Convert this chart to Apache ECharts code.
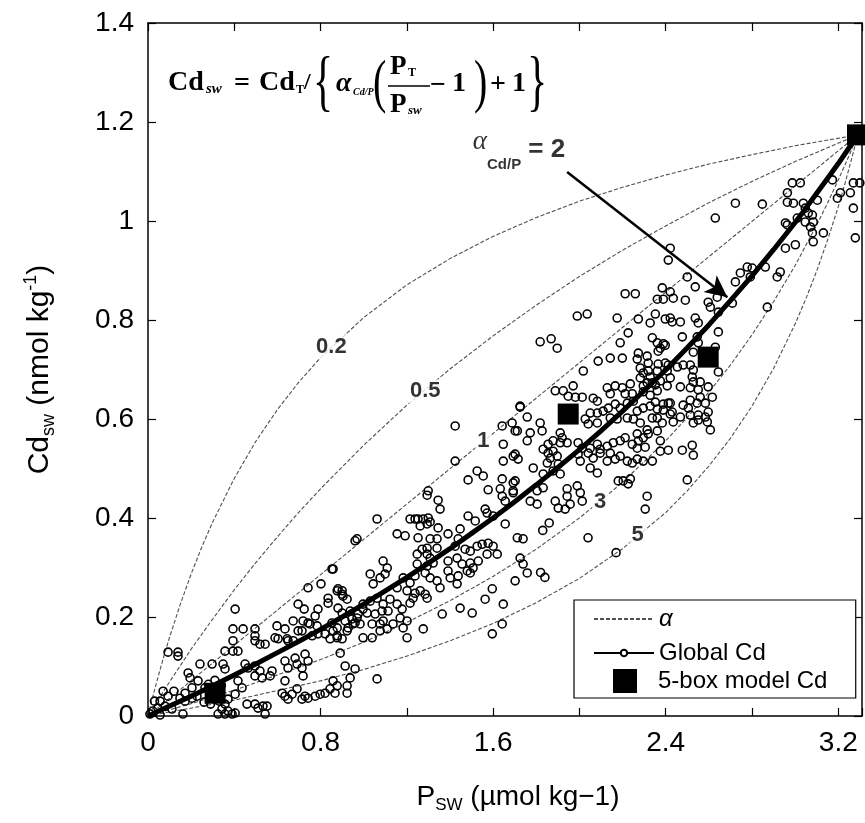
<!DOCTYPE html>
<html>
<head>
<meta charset="UTF-8">
<script type="text/javascript" src="https://cdn.jsdelivr.net/npm/echarts@6/dist/echarts.min.js"></script>
<title>Cd vs P</title>
<style>html,body{margin:0;padding:0;background:#fff;}</style>
</head>
<body>
<div id="main" style="width:865px;height:823px;"></div>
<script type="text/javascript">
// model curves Cd_sw vs P_sw for each alpha
var curveA02 = [[0,0],[0.01,0.018],[0.02,0.035],[0.035,0.060],[0.05,0.084],[0.075,0.123],[0.1,0.159],[0.15,0.226],[0.2,0.287],[0.25,0.342],[0.3,0.392],[0.4,0.480],[0.5,0.555],[0.6,0.619],[0.7,0.675],[0.8,0.724],[1.0,0.805],[1.2,0.871],[1.4,0.924],[1.6,0.969],[1.8,1.007],[2.0,1.040],[2.2,1.068],[2.4,1.093],[2.6,1.115],[2.8,1.134],[3.0,1.152],[3.29,1.174]];
var curveA05 = [[0,0],[0.05,0.035],[0.1,0.069],[0.2,0.135],[0.3,0.196],[0.4,0.255],[0.5,0.310],[0.6,0.362],[0.7,0.412],[0.8,0.459],[1.0,0.547],[1.2,0.628],[1.4,0.701],[1.6,0.768],[1.8,0.830],[2.0,0.888],[2.2,0.941],[2.4,0.990],[2.6,1.037],[2.8,1.080],[3.0,1.120],[3.29,1.174]];
var curveA1 = [[0,0],[3.29,1.174]];
var curveA3 = [[0,0],[0.2,0.025],[0.4,0.052],[0.8,0.114],[1.0,0.149],[1.2,0.189],[1.4,0.233],[1.6,0.282],[1.8,0.337],[2.0,0.400],[2.2,0.472],[2.4,0.556],[2.5,0.603],[2.6,0.654],[2.7,0.709],[2.8,0.770],[2.9,0.837],[3.0,0.910],[3.1,0.992],[3.15,1.036],[3.2,1.083],[3.25,1.132],[3.29,1.174]];
var curveA5 = [[0,0],[0.4,0.032],[0.8,0.071],[1.0,0.094],[1.2,0.121],[1.4,0.152],[1.6,0.187],[1.8,0.229],[2.0,0.278],[2.2,0.338],[2.4,0.411],[2.5,0.455],[2.6,0.505],[2.7,0.561],[2.8,0.626],[2.9,0.702],[3.0,0.792],[3.05,0.843],[3.1,0.899],[3.15,0.961],[3.2,1.029],[3.23,1.074],[3.27,1.139],[3.29,1.174]];
// thick global Cd line
var globalCdLine = [[0,0],[0.1,0.020],[0.2,0.040],[0.3,0.061],[0.4,0.083],[0.5,0.105],[0.6,0.128],[0.7,0.151],[0.8,0.175],[0.9,0.200],[1.0,0.226],[1.1,0.253],[1.2,0.280],[1.3,0.309],[1.4,0.338],[1.5,0.369],[1.6,0.400],[1.7,0.433],[1.8,0.467],[1.9,0.502],[2.0,0.538],[2.1,0.576],[2.2,0.616],[2.3,0.657],[2.4,0.699],[2.5,0.744],[2.6,0.790],[2.7,0.839],[2.8,0.889],[2.9,0.942],[3.0,0.997],[3.05,1.026],[3.1,1.056],[3.15,1.086],[3.2,1.116],[3.25,1.148],[3.29,1.174]];
// 5-box model values
var boxModel = [[0.311,0.046],[1.948,0.610],[2.597,0.725],[3.289,1.174]];

// observed Cd / P pairs (open circles)
var obsLowLeft = [
[0.093,0.129],[0.139,0.129],[0.139,0.121],[0.404,0.216],[0.853,0.297],[0.802,0.267],[0.742,0.259],[0.960,0.354],
[0.881,0.257],[0.900,0.246],[0.923,0.236],[0.835,0.238],[0.835,0.228],[0.696,0.226],[0.724,0.216],[0.788,0.216],
[0.881,0.218],[0.900,0.208],[0.997,0.216],[0.946,0.196],[0.974,0.206],[0.673,0.192],[0.719,0.192],[0.751,0.186],
[0.775,0.202],[0.784,0.182],[0.394,0.176],[0.441,0.176],[0.496,0.176],[0.598,0.182],[0.635,0.176],[0.696,0.172],
[0.853,0.188],[0.877,0.178],[0.914,0.192],[0.928,0.178],[0.960,0.188],[0.394,0.152],[0.357,0.131],[0.394,0.131],
[0.417,0.131],[0.496,0.162],[0.496,0.152],[0.519,0.145],[0.543,0.145],[0.589,0.158],[0.603,0.156],[0.645,0.156],
[0.649,0.152],[0.673,0.152],[0.714,0.172],[0.742,0.188],[0.761,0.162],[0.788,0.166],[0.821,0.166],[0.844,0.156],
[0.877,0.162],[0.241,0.105],[0.297,0.105],[0.348,0.105],[0.357,0.095],[0.186,0.087],[0.195,0.077],[0.232,0.071],
[0.450,0.105],[0.464,0.097],[0.496,0.101],[0.519,0.091],[0.496,0.081],[0.529,0.077],[0.566,0.081],[0.575,0.091],
[0.635,0.111],[0.649,0.097],[0.682,0.117],[0.691,0.105],[0.714,0.097],[0.728,0.125],[0.742,0.111],[0.719,0.081],
[0.635,0.071],[0.914,0.101],[0.960,0.095],[0.937,0.077],[0.923,0.061],[0.923,0.046],[0.691,0.055],[0.668,0.044],
[0.635,0.040],[0.622,0.046],[0.649,0.034],[0.714,0.034],[0.728,0.040],[0.742,0.036],[0.775,0.040],[0.798,0.044],
[0.821,0.046],[0.844,0.055],[0.867,0.046],[0.459,0.024],[0.496,0.024],[0.510,0.016],[0.533,0.020],[0.552,0.020],
[0.543,0.004],[0.343,0.014],[0.371,0.010],[0.404,0.006],[0.325,0.004],[0.357,0.004],[0.390,0.004],[0.093,0.040],
[0.056,0.030],[0.046,0.016],[0.079,0.020],[0.111,0.014],[0.162,0.004],[0.172,0.030],[0.204,0.036],[0.227,0.040],
[0.023,0.010],[0.056,0.002],[0.009,0.004],[0.404,0.044],[0.371,0.034],[0.357,0.024],[0.436,0.057],[0.417,0.071],
[0.264,0.057],[0.204,0.057],[0.172,0.046],[0.148,0.036],[0.280,0.064],[0.310,0.072],[0.340,0.062],[0.260,0.028],
[0.290,0.024],[0.330,0.030],[0.120,0.050],[0.070,0.050],[0.030,0.030]
];
var obsMid = [
[1.424,0.586],[1.424,0.515],[1.299,0.455],[1.294,0.446],[1.345,0.436],[1.354,0.418],[1.062,0.398],[0.969,0.358],[0.858,0.297],
[1.642,0.586],[1.688,0.592],[1.725,0.626],[1.712,0.576],[1.647,0.549],[1.647,0.515],[1.693,0.525],[1.716,0.519],
[1.526,0.495],[1.554,0.485],[1.484,0.477],[1.642,0.479],[1.693,0.471],[1.633,0.459],[1.642,0.444],[1.577,0.457],[1.693,0.455],
[1.563,0.418],[1.572,0.410],[1.600,0.404],[1.484,0.404],[1.517,0.394],[1.656,0.388],[1.712,0.360],[1.739,0.358],
[1.215,0.398],[1.238,0.398],[1.252,0.398],[1.276,0.398],[1.299,0.400],[1.308,0.392],[1.294,0.388],[1.262,0.384],[1.345,0.380],
[1.155,0.368],[1.192,0.364],[1.252,0.360],[1.308,0.358],[1.340,0.358],[1.294,0.339],[1.271,0.337],[1.248,0.327],[1.294,0.327],[1.308,0.319],[1.340,0.339],
[1.391,0.368],[1.447,0.378],[1.438,0.358],[1.424,0.343],[1.470,0.337],[1.494,0.333],[1.526,0.343],[1.549,0.347],[1.577,0.349],[1.600,0.343],
[1.619,0.327],[1.572,0.327],[1.531,0.313],[1.494,0.309],[1.456,0.307],[1.433,0.319],[1.391,0.313],
[1.090,0.313],[1.109,0.299],[1.099,0.287],[1.248,0.307],[1.294,0.303],[1.322,0.309],[1.285,0.289],[1.308,0.279],[1.340,0.273],[1.354,0.259],
[1.391,0.293],[1.401,0.279],[1.438,0.283],[1.433,0.267],[1.480,0.293],[1.494,0.289],[1.507,0.299],
[1.030,0.287],[1.044,0.267],[1.076,0.279],[1.183,0.279],[1.215,0.269],[1.238,0.283],
[1.155,0.259],[1.201,0.253],[1.238,0.248],[1.262,0.253],[1.285,0.246],[1.294,0.238],[1.229,0.238],[1.215,0.228],
[0.877,0.253],[0.900,0.253],[0.904,0.242],
[0.997,0.226],[1.030,0.232],[1.062,0.238],[1.090,0.226],[1.122,0.236],[1.155,0.226],[1.178,0.216],[1.113,0.212],[1.085,0.212],[1.053,0.206],[1.016,0.208],
[0.937,0.212],[0.969,0.198],[0.983,0.186],[0.951,0.186],[0.923,0.172],[0.858,0.172],[0.877,0.158],[0.900,0.156],
[1.039,0.186],[1.076,0.186],[1.090,0.192],[1.136,0.186],[1.169,0.198],[1.201,0.192],[1.183,0.178],[1.201,0.158],[1.276,0.176],
[0.997,0.158],[1.039,0.158],[1.076,0.172],[1.109,0.176],
[1.364,0.206],[1.447,0.218],[1.503,0.208],[1.563,0.236],[1.596,0.257],[1.647,0.226],[1.596,0.166],[1.642,0.186],
[1.702,0.273],[1.739,0.307],[1.758,0.289],[1.725,0.319],
[0.891,0.127],[1.062,0.075],[0.877,0.061],[0.858,0.071]
];
var obsCentre = [
[2.212,0.853],[2.259,0.853],[2.361,0.842],[2.389,0.842],[2.384,0.865],[1.990,0.808],[2.036,0.812],[2.175,0.804],
[1.818,0.756],[1.869,0.762],[1.897,0.743],[2.226,0.774],[2.273,0.802],[2.328,0.794],[2.352,0.812],[2.398,0.802],
[2.189,0.754],[2.338,0.764],[2.361,0.754],[2.389,0.752],[2.365,0.737],[2.087,0.717],[2.143,0.723],[2.199,0.723],
[2.273,0.733],[2.268,0.721],[2.314,0.727],[2.319,0.713],[2.282,0.703],[2.319,0.697],[2.361,0.697],[2.365,0.711],[2.398,0.713],[2.407,0.697],
[2.018,0.697],[1.971,0.667],[1.925,0.657],[1.888,0.657],[1.948,0.646],[1.981,0.644],
[2.013,0.644],[2.064,0.642],[2.083,0.636],[2.129,0.663],[2.166,0.667],[2.143,0.651],[2.199,0.663],[2.212,0.651],[2.236,0.671],[2.245,0.651],
[2.282,0.683],[2.296,0.667],[2.338,0.673],[2.375,0.677],[2.361,0.657],[2.407,0.667],[1.725,0.624],
[2.050,0.612],[2.083,0.612],[2.110,0.616],[2.134,0.622],[2.166,0.630],[2.189,0.622],[2.222,0.632],[2.250,0.636],[2.268,0.616],[2.296,0.622],
[2.328,0.626],[2.361,0.620],[2.389,0.630],[2.412,0.632],[1.758,0.604],[1.818,0.592],[1.827,0.576],
[2.027,0.600],[2.041,0.590],[2.083,0.592],[2.143,0.602],[2.175,0.600],[2.222,0.602],[2.250,0.600],[2.282,0.592],[2.338,0.602],[2.361,0.602],[2.384,0.592],[2.421,0.610],
[1.702,0.576],[1.772,0.572],[1.758,0.556],[1.911,0.572],[1.920,0.562],[1.878,0.556],[1.855,0.549],[1.911,0.552],[1.943,0.552],[1.994,0.552],
[2.013,0.541],[2.050,0.541],[2.041,0.531],[2.083,0.549],[2.096,0.539],[2.129,0.545],[2.157,0.552],[2.189,0.556],[2.212,0.562],[2.268,0.570],
[2.245,0.549],[2.273,0.556],[2.296,0.562],[2.319,0.570],[2.361,0.576],[2.375,0.556],[2.268,0.541],
[1.832,0.539],[1.855,0.531],[1.878,0.535],[1.865,0.521],[1.897,0.525],[1.851,0.511],[1.902,0.509],[1.878,0.495],[1.911,0.489],[1.832,0.489],
[1.702,0.529],[1.786,0.501],[1.994,0.529],[2.004,0.515],[2.064,0.521],[2.096,0.531],[2.143,0.531],[2.050,0.501],[2.083,0.491],[2.129,0.515],
[2.166,0.519],[2.189,0.525],[2.222,0.515],[2.245,0.511],[2.268,0.519],[2.296,0.515],[2.338,0.515],[2.375,0.535],
[1.702,0.475],[1.693,0.451],[1.656,0.434],[1.804,0.455],[1.772,0.434],[1.832,0.461],[1.943,0.459],[1.943,0.444],[1.990,0.465],[2.004,0.451],
[2.013,0.434],[1.957,0.428],[1.888,0.434],[2.180,0.475],[2.203,0.475],[2.236,0.479],[2.226,0.469],
[2.314,0.444],[2.305,0.418],[1.902,0.420],[1.934,0.418],[1.804,0.428],
[1.860,0.390],[1.830,0.375],[2.040,0.360],[1.840,0.280],[1.820,0.290],[2.170,0.330]
];
var obsRightBand = [
[2.421,0.945],[2.412,0.921],[2.500,0.887],[2.537,0.867],[2.491,0.840],[2.421,0.857],[2.435,0.844],
[2.778,0.907],[2.801,0.905],[2.746,0.895],[2.792,0.887],[2.723,0.877],[2.862,0.907],
[2.639,0.846],[2.597,0.836],[2.607,0.826],[2.644,0.816],[2.709,0.834],
[2.421,0.804],[2.430,0.796],[2.468,0.796],[2.537,0.804],[2.551,0.794],[2.644,0.776],[2.871,0.826],
[2.477,0.766],[2.546,0.766],[2.551,0.754],[2.528,0.735],[2.630,0.745],
[2.412,0.709],[2.454,0.705],[2.481,0.709],[2.514,0.709],[2.528,0.699],[2.644,0.695],
[2.421,0.683],[2.468,0.665],[2.523,0.685],[2.528,0.675],[2.560,0.675],[2.514,0.663],[2.551,0.659],[2.597,0.665],
[2.421,0.632],[2.430,0.614],[2.481,0.628],[2.514,0.638],[2.505,0.622],[2.546,0.632],[2.560,0.644],[2.584,0.632],[2.616,0.644],
[2.597,0.614],[2.584,0.604],[2.551,0.608],[2.435,0.594],[2.468,0.604],[2.514,0.608],[2.528,0.592],[2.551,0.598],[2.593,0.594],[2.607,0.578],
[2.412,0.537],[2.477,0.537],[2.523,0.547],[2.528,0.527],[2.500,0.477],
[2.296,0.655],[2.328,0.648],[2.352,0.634],[2.389,0.618],[2.314,0.578],[2.305,0.543],[2.314,0.673],[2.352,0.669],[2.296,0.693],[2.328,0.685],
[2.398,0.749],[2.375,0.743]
];
var obsTopRight = [
[2.987,1.077],[3.024,1.077],[2.964,1.057],[2.964,1.038],[2.992,1.036],[2.848,1.034],
[3.038,1.036],[3.047,1.026],[3.061,1.016],[3.080,1.012],[3.084,0.998],[3.047,0.998],[3.010,1.006],[2.955,0.996],[2.964,0.992],
[3.071,0.988],[3.080,0.976],[3.084,0.958],[3.131,0.976],[3.103,1.042],[3.173,1.083],[3.196,1.046],[3.210,1.057],[3.256,1.057],
[3.270,1.077],[3.300,1.077],[3.270,1.026],[3.279,0.966],[3.001,0.952],[2.955,0.945],[2.931,0.897],[2.917,0.887],
[2.723,1.036],[2.630,1.006]
];

// labels written on the alpha curves: [P, Cd, text]
var curveLabelPos = [[0.85,0.746,'0.2'],[1.285,0.656,'0.5'],[1.555,0.556,'1'],[2.096,0.432,'3'],[2.27,0.365,'5']];
var alpha2LabelPos = [1.72, 1.143];
var arrowFrom = [1.943, 1.099];
var arrowTo = [2.686, 0.846];

var xMax = 3.31;
var yMax = 1.4;

var FONT = 'Liberation Sans, Arial, sans-serif';
var SERIF = '"Liberation Serif", "Times New Roman", serif';

function fmtX(v) {
    var k = v / 0.8;
    if (Math.abs(k - Math.round(k)) < 1e-6) return String(Math.round(k) * 8 / 10);
    return '';
}

function ftxt(t, x, y, font, extra) {
    var el = {type: 'text', x: x, y: y, z: 10, silent: true,
        style: {text: t, font: font, fill: '#000', verticalAlign: 'middle', align: 'left'}};
    if (extra) for (var k in extra) el[k] = extra[k];
    return el;
}

var obsAll = obsLowLeft.concat(obsMid, obsCentre, obsRightBand, obsTopRight);

var alphaLine = {color: '#505050', width: 1.1, type: [4, 2]};
function alphaSeries(data) {
    return {name: 'α', type: 'line', data: data, symbol: 'none', showSymbol: false,
        lineStyle: alphaLine, itemStyle: {color: '#505050'}, z: 1, silent: true};
}

var myChart = echarts.init(document.getElementById('main'), null, {renderer: 'canvas'});

var option = {
    animation: false,
    backgroundColor: '#fff',
    textStyle: {fontFamily: FONT, color: '#000'},
    grid: {left: 148, right: 3, top: 23, bottom: 107, containLabel: false},
    legend: [{
        left: 574, top: 600, orient: 'vertical',
        padding: [7, 90, 33, 19],
        itemWidth: 60, itemHeight: 8, itemGap: 10,
        borderColor: '#000', borderWidth: 1.2, backgroundColor: '#fff',
        selectedMode: false, z: 8,
        textStyle: {fontSize: 24, color: '#000', fontFamily: FONT,
            rich: {i: {fontStyle: 'italic', fontSize: 24, fontFamily: FONT}}},
        formatter: function (n) { return n === 'α' ? '{i|α}' : n; },
        data: [{name: 'α', itemStyle: {opacity: 0}}, {name: 'Global Cd'}]
    }, {
        left: 613, top: 669, orient: 'vertical', padding: 0,
        itemWidth: 24, itemHeight: 24,
        selectedMode: false, z: 9,
        textStyle: {fontSize: 24, color: '#000', fontFamily: FONT, padding: [0, 0, 0, 16]},
        data: [{name: '5-box model Cd', icon: 'rect', itemStyle: {opacity: 1}}]
    }],
    xAxis: [{
        type: 'value', min: 0, max: xMax, interval: 0.4, position: 'bottom',
        axisLine: {onZero: false, lineStyle: {color: '#000', width: 1.5}},
        axisTick: {inside: true, length: 8, lineStyle: {color: '#000', width: 1.2}},
        axisLabel: {fontSize: 28, color: '#000', margin: 13, formatter: fmtX, fontFamily: FONT},
        splitLine: {show: false},
        name: '{m|P}{s|SW}{m| (µmol kg−1)}', nameLocation: 'middle', nameGap: 64,
        nameTextStyle: {color: '#000', padding: [0, 0, 0, 26],
            rich: {m: {fontSize: 28, lineHeight: 34, fontFamily: FONT},
                   s: {fontSize: 17, lineHeight: 14, verticalAlign: 'bottom', fontFamily: FONT}}}
    }, {
        type: 'value', min: 0, max: xMax, interval: 0.4, position: 'top',
        axisLine: {onZero: false, lineStyle: {color: '#000', width: 1.5}},
        axisTick: {inside: true, length: 8, lineStyle: {color: '#000', width: 1.2}},
        axisLabel: {show: false}, splitLine: {show: false}
    }],
    yAxis: [{
        type: 'value', min: 0, max: yMax, interval: 0.2, position: 'left',
        axisLine: {onZero: false, lineStyle: {color: '#000', width: 1.5}},
        axisTick: {inside: true, length: 8, lineStyle: {color: '#000', width: 1.2}},
        axisLabel: {fontSize: 28, color: '#000', margin: 14, fontFamily: FONT},
        splitLine: {show: false},
        name: '{m|Cd}{s|sw}{m| (nmol kg}{p|-1}{m|)}', nameLocation: 'middle', nameGap: 90, nameRotate: 90,
        nameTextStyle: {color: '#000',
            rich: {m: {fontSize: 30, lineHeight: 36, fontFamily: FONT},
                   s: {fontSize: 18, lineHeight: 14, verticalAlign: 'bottom', fontFamily: FONT},
                   p: {fontSize: 18, lineHeight: 14, verticalAlign: 'top', fontFamily: FONT}}}
    }, {
        type: 'value', min: 0, max: yMax, interval: 0.2, position: 'right',
        axisLine: {onZero: false, lineStyle: {color: '#000', width: 1.5}},
        axisTick: {inside: true, length: 8, lineStyle: {color: '#000', width: 1.2}},
        axisLabel: {show: false}, splitLine: {show: false}
    }],
    series: [
        alphaSeries(curveA02), alphaSeries(curveA05), alphaSeries(curveA1), alphaSeries(curveA3), alphaSeries(curveA5),
        {
            name: 'Global Cd data', type: 'scatter', data: obsAll, symbol: 'circle', symbolSize: 8,
            itemStyle: {color: 'rgba(0,0,0,0)', borderColor: '#000', borderWidth: 1.6, opacity: 1}, z: 3, silent: true
        },
        {
            name: 'Global Cd', type: 'line', data: globalCdLine, symbol: 'emptyCircle', symbolSize: 6,
            showSymbol: false,
            lineStyle: {color: '#000', width: 5}, itemStyle: {color: '#000'}, z: 4, silent: true,
            markLine: {
                silent: true, symbol: ['none', 'arrow'], symbolSize: [16, 22],
                lineStyle: {color: '#000', width: 2.5, type: 'solid', opacity: 1},
                itemStyle: {color: '#000', opacity: 1}, label: {show: false},
                data: [[{coord: arrowFrom}, {coord: arrowTo}]]
            }
        },
        {
            name: '5-box model Cd', type: 'scatter', data: boxModel, symbol: 'rect', symbolSize: 21,
            itemStyle: {color: '#000', opacity: 1}, z: 6, silent: true
        },
        {
            name: 'labels', type: 'scatter', symbolSize: 1, z: 7, silent: true,
            itemStyle: {color: 'rgba(0,0,0,0)'},
            data: curveLabelPos.map(function (d) { return {name: d[2], value: [d[0], d[1]]}; }),
            label: {show: true, position: 'inside', formatter: '{b}', fontSize: 22, fontWeight: 'bold',
                color: '#000', backgroundColor: '#fff', padding: [1, 2], fontFamily: FONT}
        },
        {
            name: 'alpha2', type: 'scatter', symbolSize: 1, z: 7, silent: true,
            itemStyle: {color: 'rgba(0,0,0,0)'},
            data: [{name: 'a2', value: alpha2LabelPos}],
            label: {show: true, position: 'inside', color: '#000',
                formatter: '{a|α}{s|Cd/P}{e| = 2}',
                rich: {
                    a: {color: '#000', fontSize: 27, fontStyle: 'italic', fontFamily: SERIF, lineHeight: 30, verticalAlign: 'top'},
                    s: {color: '#000', fontSize: 15, fontWeight: 'bold', fontFamily: FONT, lineHeight: 16, verticalAlign: 'bottom'},
                    e: {color: '#000', fontSize: 26, fontWeight: 'bold', fontFamily: FONT, lineHeight: 44}
                }}
        }
    ],
    graphic: {elements: [
        ftxt('Cd', 168, 83, 'bold 28px ' + SERIF),
        ftxt('sw', 206, 89, 'italic bold 15px ' + SERIF),
        ftxt('=', 234, 84, 'bold 28px ' + SERIF),
        ftxt('Cd', 259, 83, 'bold 28px ' + SERIF),
        ftxt('T', 296, 90, 'bold 12px ' + SERIF),
        ftxt('/', 304, 83, 'bold 24px ' + SERIF),
        ftxt('{', 313, 85, '42px ' + SERIF, {scaleY: 1.6}),
        ftxt('α', 336, 84, 'italic bold 28px ' + SERIF),
        ftxt('Cd/P', 353, 92, 'italic bold 10px ' + SERIF),
        ftxt('(', 373, 85, '40px ' + SERIF, {scaleY: 1.5}),
        ftxt('P', 390, 67, 'bold 27px ' + SERIF),
        ftxt('T', 408, 73, 'bold 12px ' + SERIF),
        {type: 'line', z: 10, silent: true, shape: {x1: 388, y1: 86, x2: 430, y2: 86}, style: {stroke: '#000', lineWidth: 1.6}},
        ftxt('P', 390, 105, 'bold 27px ' + SERIF),
        ftxt('sw', 408, 111, 'italic bold 13px ' + SERIF),
        ftxt('−', 430, 86, 'bold 28px ' + SERIF),
        ftxt('1', 452, 84, 'bold 28px ' + SERIF),
        ftxt(')', 474, 85, '40px ' + SERIF, {scaleY: 1.5}),
        ftxt('+', 490, 85, 'bold 28px ' + SERIF),
        ftxt('1', 512, 84, 'bold 28px ' + SERIF),
        ftxt('}', 527, 85, '42px ' + SERIF, {scaleY: 1.6})
    ]}
};
myChart.setOption(option);
</script>
</body>
</html>
